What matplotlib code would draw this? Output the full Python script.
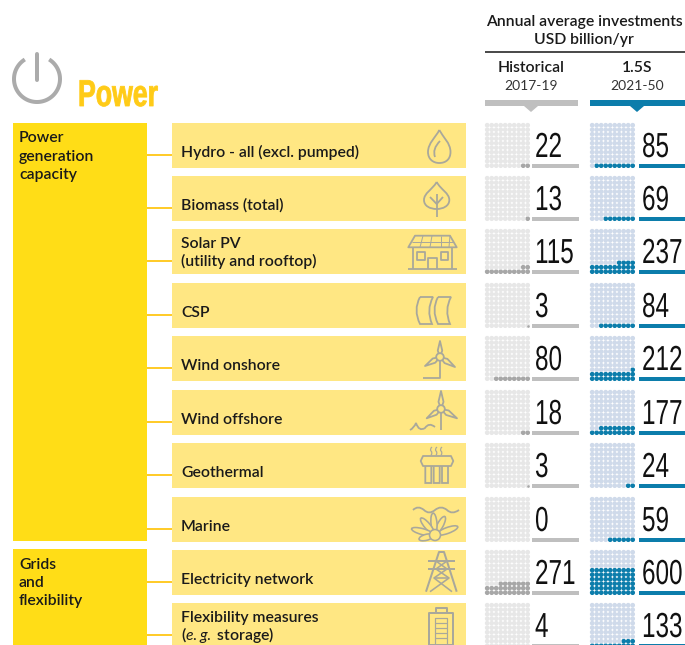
#!/usr/bin/env python3
# Power investments table: waffle per row, 1 dot = 10 USD bn/yr
import matplotlib
matplotlib.use('Agg')
import matplotlib.pyplot as plt
from matplotlib.patches import Circle, Ellipse, PathPatch, Polygon, Rectangle
from matplotlib.path import Path
from matplotlib.patheffects import AbstractPathEffect
from matplotlib.transforms import Affine2D
from numpy import cos, sin, radians

categories = ['Hydro - all (excl. pumped)', 'Biomass (total)',
              'Solar PV\n(utility and rooftop)', 'CSP', 'Wind onshore',
              'Wind offshore', 'Geothermal', 'Marine', 'Electricity network',
              'Flexibility measures\n($\\mathit{e{.}g{.}}$ storage)']
historical = [22, 13, 115, 3, 80, 18, 3, 0, 271, 4]
scenario_15 = [85, 69, 237, 84, 212, 177, 24, 59, 600, 133]
groups = ['Power\ngeneration\ncapacity', 'Grids\nand\nflexibility']

row_tops = [123, 176, 229, 283, 336, 390, 443, 497, 550, 603]

YELLOW = '#FFDD17'
PALE = '#FFE783'
LINK = '#FFCB2B'
ICON = '#A9A89B'
GREY = '#BFBFBF'
BLUE = '#0C7DAB'
TXT = '#1A1A1A'

plt.rcParams['font.family'] = ['Lato', 'DejaVu Sans']
plt.rcParams['mathtext.fontset'] = 'custom'
plt.rcParams['mathtext.it'] = 'Lato:italic'
plt.rcParams['mathtext.rm'] = 'Lato'

NUMFONT = 'Liberation Sans'
FS = 11.3
WT = 'semibold'


class Tall(AbstractPathEffect):
    # vertical stretch, the numbers are set in a very condensed face
    def __init__(self, sy, edge=0):
        super().__init__()
        self.sy = sy
        self.edge = edge

    def draw_path(self, renderer, gc, tpath, affine, rgbFace=None):
        gc0 = renderer.new_gc()
        gc0.copy_properties(gc)
        gc0.set_linewidth(self.edge)
        gc0.set_foreground(rgbFace)
        renderer.draw_path(gc0, tpath, Affine2D().scale(1, self.sy) + affine, rgbFace)
        gc0.restore()


fig = plt.figure(figsize=(6.85, 6.45), dpi=100)
ax = fig.add_axes([0, 0, 1, 1])
ax.set_xlim(0, 685)
ax.set_ylim(645, 0)
ax.axis('off')


def px(w):
    return w * 0.72


def rect(x0, y0, x1, y1, color):
    ax.add_patch(Rectangle((x0, y0), x1 - x0, y1 - y0, fc=color, ec='none'))


def stroke(x0, y0, pts, lw=1.8, closed=False, fc='none'):
    ax.add_patch(Polygon([(x0 + a, y0 + b) for a, b in pts], closed=closed,
                         fc=fc, ec=ICON, lw=px(lw), joinstyle='round'))


def curve(x0, y0, verts, codes, lw=1.8):
    p = Path([(x0 + a, y0 + b) for a, b in verts], codes)
    ax.add_patch(PathPatch(p, fc='none', ec=ICON, lw=px(lw)))


def blade_set(x0, y0, hx, hy, tips):
    for tx, ty in tips:
        dx, dy = tx - hx, ty - hy
        nx, ny = -dy * .14, dx * .14
        stroke(x0, y0, [(hx, hy), (hx + dx * .4 + nx, hy + dy * .4 + ny), (tx, ty),
                        (hx + dx * .4 - nx, hy + dy * .4 - ny)], closed=True, fc=PALE)
    ax.add_patch(Circle((x0 + hx, y0 + hy), 3.8, fc=PALE, ec=ICON, lw=px(1.8), zorder=3))


def icon_drop(x, y):
    M, C = Path.MOVETO, Path.CURVE4
    curve(x, y, [(39.3, 7), (36, 14), (28, 20), (28, 29), (28, 36), (33, 40), (39.3, 40),
                 (46, 40), (50.5, 36), (50.5, 29), (50.5, 20), (43, 14), (39.3, 7)],
          [M] + [C] * 12)
    curve(x, y, [(40, 18), (32, 26), (35, 34)], [M, Path.CURVE3, Path.CURVE3])


def icon_leaf(x, y):
    M, C = Path.MOVETO, Path.CURVE4
    curve(x, y, [(36.7, 6), (32, 14), (24, 17), (24, 24), (24, 30), (30, 33), (36.7, 33),
                 (43, 33), (49.3, 30), (49.3, 24), (49.3, 17), (41, 14), (36.7, 6)],
          [M] + [C] * 12)
    stroke(x, y, [(36.7, 18), (36.7, 41)])
    stroke(x, y, [(30, 21), (36.7, 28), (43, 21)])


def icon_house(x, y):
    stroke(x, y, [(15, 6.7), (50, 6.7), (56.7, 18.3), (8.3, 18.3)], closed=True)
    stroke(x, y, [(12, 12.5), (53.5, 12.5)], lw=1)
    for a, b in [(23, 20), (32, 30), (41, 41), (50, 49)]:
        stroke(x, y, [(a, 6.7), (b, 18.3)], lw=1)
    stroke(x, y, [(12.7, 18.3), (12.7, 40)])
    stroke(x, y, [(52.3, 18.3), (52.3, 40)])
    stroke(x, y, [(8.3, 40), (56.7, 40)])
    stroke(x, y, [(28.3, 40), (28.3, 29), (36.7, 29), (36.7, 40)])
    stroke(x, y, [(17.3, 22.7), (25, 22.7), (25, 31), (17.3, 31)], closed=True)
    stroke(x, y, [(40.7, 22.7), (48.3, 22.7), (48.3, 31), (40.7, 31)], closed=True)


def icon_csp(x, y):
    M, L, Q = Path.MOVETO, Path.LINETO, Path.CURVE3
    for off in (0, 18):
        curve(x + off, y, [(20, 14), (13, 27), (20, 41), (32, 41), (26, 27), (33, 14), (20, 14)],
              [M, Q, Q, L, Q, Q, L])


def icon_onshore(x, y):
    stroke(x, y, [(40, 25), (40, 42), (23, 42)])
    blade_set(x, y, 40, 21, [(40, 5), (25, 30), (55, 31)])


def icon_offshore(x, y):
    M, Q = Path.MOVETO, Path.CURVE3
    stroke(x, y, [(41, 23), (41, 40)])
    blade_set(x, y, 41, 19, [(41, 1), (26.7, 28.3), (57, 28.3)])
    curve(x, y, [(10, 40), (14, 38), (16, 33), (19, 42), (25, 38), (29, 32), (35, 37)],
          [M, Q, Q, Q, Q, Q, Q])


def icon_geo(x, y):
    M, L, Q = Path.MOVETO, Path.LINETO, Path.CURVE3
    for a in (31, 36, 41):
        curve(x, y, [(a, 12), (a + 2, 10), (a, 8), (a - 1.5, 6), (a + 1, 4)], [M, Q, Q, Q, Q], lw=1.2)
    stroke(x, y, [(23, 13), (51, 13), (53.3, 18), (51, 23), (23, 23), (20.7, 18)], closed=True, fc=PALE)
    for a in (28.3, 36.7, 45):
        curve(x, y, [(a - 3, 23), (a - 3, 40), (a, 40), (a + 3, 40), (a + 3, 23)], [M, L, Q, Q, L])


def icon_marine(x, y):
    M, Q = Path.MOVETO, Path.CURVE3
    curve(x, y, [(13, 13), (18, 8), (24, 13), (29, 18), (35, 13), (41, 8), (47, 13), (52, 18), (59, 13)],
          [M] + [Q] * 8)
    for ang, ln in [(20, 22), (62, 19), (95, 20), (130, 20), (165, 22), (-165, 15)]:
        cx = 35 + cos(radians(ang)) * ln * .6
        cy = 38 - sin(radians(ang)) * ln * .6
        ax.add_patch(Ellipse((x + cx, y + cy), ln, 6, angle=-ang, fc=PALE, ec=ICON, lw=px(1.6)))
    ax.add_patch(Circle((x + 35, y + 38), 5.5, fc=PALE, ec=ICON, lw=px(1.6), zorder=3))


def icon_tower(x, y):
    stroke(x, y, [(26, 41.7), (39, 2), (44, 2), (56.7, 41.7)], lw=2)
    for yy, a, b in [(11, 28, 55), (19, 28, 55)]:
        stroke(x, y, [(a, yy), (b, yy)], lw=2)
    stroke(x, y, [(36, 11), (47, 19), (34, 28), (52, 41.7)], lw=1.6)
    stroke(x, y, [(47, 11), (36, 19), (49, 28), (30, 41.7)], lw=1.6)
    stroke(x, y, [(34, 28), (49, 28)], lw=1.6)


def icon_battery(x, y):
    stroke(x, y, [(36, 10), (36, 5), (47, 5), (47, 10)], lw=2)
    stroke(x, y, [(29, 10), (53, 10), (53, 42), (29, 42)], closed=True, lw=2)
    stroke(x, y, [(35, 15), (47, 15), (47, 42), (35, 42)], closed=True, lw=1.2)
    for yy in (20, 25, 30, 35):
        stroke(x, y, [(35, yy), (47, yy)], lw=1.2)


icons = [icon_drop, icon_leaf, icon_house, icon_csp, icon_onshore,
         icon_offshore, icon_geo, icon_marine, icon_tower, icon_battery]


def waffle(x0, y0, value, light, dark):
    # 10x10 dots, filled from the bottom right corner
    n = int(value / 10 + .5)
    xs, ys, cols = [], [], []
    for k in range(100):
        row, col = k // 10, k % 10
        xs.append(x0 + 2.2 + (9 - col) * 4.5)
        ys.append(y0 + 42.7 - row * 4.5)
        cols.append(dark if k < n else light)
    ax.scatter(xs, ys, s=px(4.7) ** 2, c=cols, linewidths=0, zorder=2)
    if 0 < value < 10:
        ax.scatter(xs[:1], ys[:1], s=px(4.7) ** 2 * value / 10, c=[dark], linewidths=0, zorder=3)


# title block
rect(13, 123, 147, 541, YELLOW)
rect(13, 549, 147, 650, YELLOW)
for y, g in zip((131.5, 558), groups):
    ax.text(19, y, g, fontsize=FS, color=TXT, va='top', linespacing=1.38, fontweight=WT)

for cat, top, ic, h, s in zip(categories, row_tops, icons, historical, scenario_15):
    rect(172, top, 466, top + 45, PALE)
    ax.plot([147, 172], [top + 32, top + 32], color=LINK, lw=px(2), solid_capstyle='butt')
    ic(400, top)
    lines = cat.split('\n')
    if len(lines) == 2:
        # mathtext upsets multiline spacing, so the two lines go separately
        ax.text(181, top + 19, lines[0], fontsize=FS, color=TXT, va='baseline', fontweight=WT)
        ax.text(181, top + 37, lines[1], fontsize=FS, color=TXT, va='baseline', fontweight=WT)
    else:
        ax.text(181, top + 34, cat, fontsize=FS, color=TXT, va='baseline', fontweight=WT)
    waffle(485, top, h, '#E7E7E7', '#A7A7A7')
    waffle(590, top, s, '#CFDAEA', BLUE)
    rect(532, top + 41, 579, top + 45, GREY)
    rect(639, top + 41, 686, top + 45, BLUE)
    ax.text(535, top + 34, str(h), family=NUMFONT, fontsize=17.5, color='#111111',
            va='baseline', path_effects=[Tall(1.43)])
    ax.text(642, top + 34, str(s), family=NUMFONT, fontsize=17.5, color='#111111',
            va='baseline', path_effects=[Tall(1.43)])

# power symbol
th = [radians(a) for a in range(-58, 239, 4)]
ax.plot([37 + 23 * cos(t) for t in th], [79 + 23 * sin(t) for t in th],
        color='#ABABAB', lw=px(4), solid_capstyle='butt')
ax.plot([37, 37], [54, 80], color='#ABABAB', lw=px(4), solid_capstyle='round')
ax.text(78, 106, 'Power', family=NUMFONT, fontweight='bold', fontsize=19.2, color='#FFCB17',
        va='baseline', path_effects=[Tall(1.4, edge=.6)])

# column headers
ax.text(584, 26, 'Annual average investments', fontsize=FS, color=TXT, ha='center',
        va='baseline', fontweight=WT)
ax.text(584, 44, 'USD billion/yr', fontsize=FS, color=TXT, ha='center', va='baseline', fontweight=WT)
ax.plot([485, 685], [52, 52], color='#111111', lw=px(1.5), solid_capstyle='butt')
for cx, a, b, x0, x1, col in [(531, 'Historical', '2017-19', 485, 578, GREY),
                              (637, '1.5S', '2021-50', 590, 686, BLUE)]:
    ax.text(cx, 72, a, fontsize=FS, color=TXT, ha='center', va='baseline', fontweight=WT)
    ax.text(cx, 90, b, fontsize=10, color='#333333', ha='center', va='baseline')
    rect(x0, 100, x1, 106, col)
    ax.add_patch(Polygon([(cx - 7, 106), (cx + 7, 106), (cx, 112)], fc=col, ec='none'))

fig.savefig('out.png', dpi=100)
